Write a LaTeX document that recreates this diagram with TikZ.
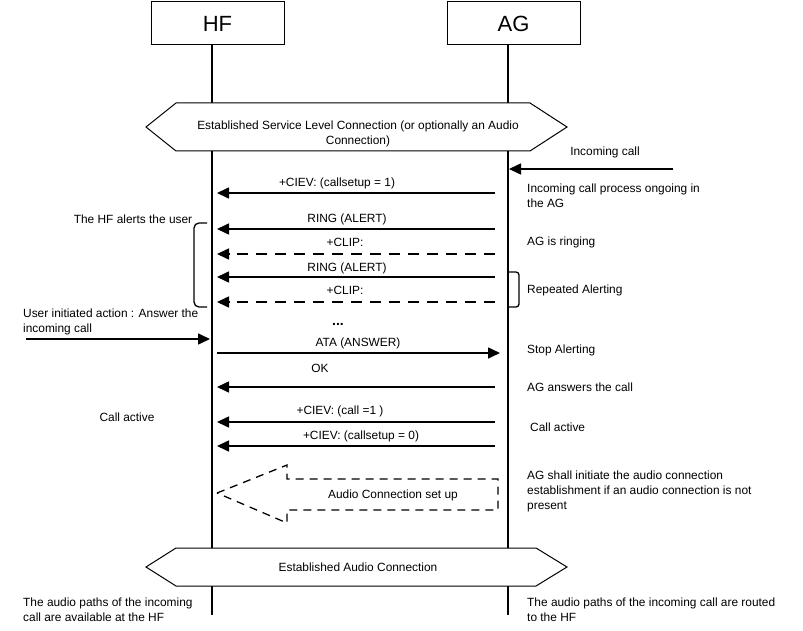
\documentclass[tikz,border=0pt]{standalone}
\usepackage{fontspec}
\setmainfont{Liberation Sans}
\usetikzlibrary{arrows.meta}
\begin{document}
\begin{tikzpicture}[x=1pt,y=-1pt,
  txt/.style={font=\fontsize{11.9}{15}\selectfont, inner sep=0pt},
  lt/.style={txt, anchor=west, align=left},
  msg/.style={line width=1.6pt, -{Triangle[length=12pt,width=11pt]}},
  dmsg/.style={msg, dash pattern=on 11pt off 8pt},
  life/.style={line width=1.2pt},
  ent/.style={draw, line width=1pt, minimum width=133pt, minimum height=43pt, inner sep=0pt, font=\fontsize{22}{24}\selectfont},
  hexa/.style={draw, line width=1pt, fill=white},
  brace/.style={line width=1.3pt}]
\useasboundingbox (0,0) rectangle (803,631);

% entities
\node[ent] (hf) at (217.5,23.5) {HF};
\node[ent] (ag) at (513.5,23.5) {AG};

% lifelines
\coordinate (hftop) at (212,45);
\coordinate (hfbot) at (212,615);
\coordinate (agtop) at (508,45);
\coordinate (agbot) at (508,615);
\draw[life] (hftop) -- (hfbot);
\draw[life] (agtop) -- (agbot);

% top hexagon
\draw[hexa] (146,127) -- (176,103) -- (530,103) -- (567,127) -- (530,151) -- (176,151) -- cycle;
\node[txt, align=center] (slc) at (358,133.5) {Established Service Level Connection (or optionally an Audio\\Connection)};

% bottom hexagon
\draw[hexa] (146,567) -- (176,548) -- (536,548) -- (567,567) -- (536,586) -- (176,586) -- cycle;
\node[txt] (eac) at (358,567) {Established Audio Connection};

% incoming call
\node[txt] (inc) at (605,152) {Incoming call};
\coordinate (incs) at (673,169);
\coordinate (ince) at (509,169);
\draw[msg] (incs) -- (ince);

% messages
\coordinate (a1) at (495,193); \coordinate (h1) at (217,193);
\draw[msg] (a1) -- (h1);
\node[txt] (l1) at (337,183) {+CIEV: (callsetup = 1)};

\coordinate (a2) at (495,229); \coordinate (h2) at (217,229);
\draw[msg] (a2) -- (h2);
\node[txt] (l2) at (347,219) {RING (ALERT)};

\coordinate (a3) at (495,254); \coordinate (h3) at (217,254);
\draw[dmsg] (a3) -- (h3);
\node[txt] (l3) at (345,242) {+CLIP:};

\coordinate (a4) at (495,277); \coordinate (h4) at (217,277);
\draw[msg] (a4) -- (h4);
\node[txt] (l4) at (347,268) {RING (ALERT)};

\coordinate (a5) at (495,302); \coordinate (h5) at (217,302);
\draw[dmsg] (a5) -- (h5);
\node[txt] (l5) at (345,290) {+CLIP:};

\node[font=\fontsize{14}{14}\selectfont\bfseries, inner sep=0pt] (dots) at (338,324) {...};

\coordinate (h6) at (217,353); \coordinate (a6) at (500,353);
\draw[msg] (h6) -- (a6);
\node[txt] (l6) at (358,343) {ATA (ANSWER)};

\coordinate (a7) at (495,387); \coordinate (h7) at (217,387);
\draw[msg] (a7) -- (h7);
\node[txt] (l7) at (320,368) {OK};

\coordinate (a8) at (495,422); \coordinate (h8) at (217,422);
\draw[msg] (a8) -- (h8);
\node[txt] (l8) at (340,411) {+CIEV: (call =1 )};

\coordinate (a9) at (495,446); \coordinate (h9) at (217,446);
\draw[msg] (a9) -- (h9);
\node[txt] (l9) at (361,436) {+CIEV: (callsetup = 0)};

% user action
\coordinate (us) at (26,339); \coordinate (ue) at (210,339);
\draw[msg] (us) -- (ue);
\node[lt] (ua) at (23,321.5) {User initiated action : Answer the\\incoming call};

% brackets
\draw[brace, rounded corners=5pt] (207,223) -| (194,307) -- (207,307);
\draw[brace, rounded corners=3pt] (508,272) -| (519,307) -- (508,307);

% audio connection set up (dashed block arrow)
\draw[line width=1.3pt, dash pattern=on 8pt off 6pt]
  (217,493) -- (287,465) -- (287,479) -- (498,479) -- (498,510) -- (287,510) -- (287,523) -- cycle;
\node[txt] (acs) at (393,495) {Audio Connection set up};

% left notes
\node[txt] (alert) at (133,219) {The HF alerts the user};
\node[txt] (cal) at (127,417) {Call active};
\node[lt] (apl) at (23,609.5) {The audio paths of the incoming\\call are available at the HF};

% right notes
\node[lt] (r1) at (527,195.5) {Incoming call process ongoing in\\the AG};
\node[lt] (r2) at (527,242) {AG is ringing};
\node[lt] (r3) at (527,290) {Repeated Alerting};
\node[lt] (r4) at (527,350) {Stop Alerting};
\node[lt] (r5) at (527,387) {AG answers the call};
\node[lt] (r6) at (530,427) {Call active};
\node[lt] (r7) at (527,491.5) {AG shall initiate the audio connection\\establishment if an audio connection is not\\present};
\node[lt] (r8) at (527,609.5) {The audio paths of the incoming call are routed\\to the HF};
\end{tikzpicture}
\end{document}
